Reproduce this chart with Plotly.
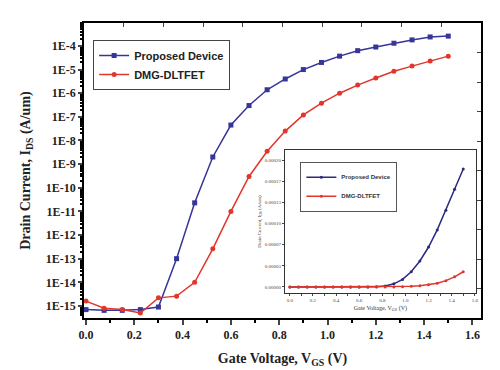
import plotly.graph_objects as go

# ---- data ----
vgs = [0.0, 0.075, 0.15, 0.225, 0.3, 0.375, 0.45, 0.525, 0.6, 0.675, 0.75,
       0.825, 0.9, 0.975, 1.05, 1.125, 1.2, 1.275, 1.35, 1.425, 1.5]
proposed_log = [7e-16, 6.5e-16, 6.5e-16, 7e-16, 9e-16, 1e-13, 2.3e-11, 2e-9, 4.5e-8, 3e-7, 1.4e-6,
                4e-6, 1e-5, 2e-5, 3.7e-5, 6.3e-5, 9e-5, 1.3e-4, 1.8e-4, 2.4e-4, 2.6e-4]
dmg_log = [1.6e-15, 8e-16, 7e-16, 5e-16, 2.2e-15, 2.6e-15, 1e-14, 2.6e-13, 1e-11, 3e-10, 3.5e-9,
           2.5e-8, 1.2e-7, 3.8e-7, 1e-6, 2.2e-6, 4.4e-6, 8.5e-6, 1.4e-5, 2.3e-5, 3.7e-5]
proposed_lin = [0.0, 0.0, 0.0, 0.0, 0.0, 0.0, 0.0, 0.0, 0.0, 0.0, 3e-7,
                1.5e-6, 5e-6, 1.2e-5, 2.4e-5, 4.1e-5, 6.3e-5, 9.0e-5, 1.21e-4, 1.54e-4, 1.86e-4]
dmg_lin = [0.0, 0.0, 0.0, 0.0, 0.0, 0.0, 0.0, 0.0, 0.0, 0.0, 0.0,
           0.0, 0.0, 4e-7, 1e-6, 2e-6, 3.5e-6, 6e-6, 1e-5, 1.6e-5, 2.4e-5]
y_tickvals = [1e-4, 1e-5, 1e-6, 1e-7, 1e-8, 1e-9, 1e-10, 1e-11, 1e-12, 1e-13, 1e-14, 1e-15]
y_ticktext = ["1E-4", "1E-5", "1E-6", "1E-7", "1E-8", "1E-9", "1E-10", "1E-11",
              "1E-12", "1E-13", "1E-14", "1E-15"]
inset_tickvals = [0.0, 3.333e-5, 6.667e-5, 1.0e-4, 1.3333e-4, 1.6667e-4, 2.0e-4]
inset_ticktext = ["0.00000", "0.00003", "0.00007", "0.00010", "0.00013", "0.00017", "0.00020"]

BLUE = "#35359a"
RED = "#e2362c"
SERIF = "Liberation Serif"
SANS = "Liberation Sans"

fig = go.Figure()
fig.add_trace(go.Scatter(x=vgs, y=proposed_log, mode="lines+markers", name="Proposed Device",
                         line=dict(color=BLUE, width=1.5),
                         marker=dict(symbol="square", size=5, color=BLUE), legend="legend"))
fig.add_trace(go.Scatter(x=vgs, y=dmg_log, mode="lines+markers", name="DMG-DLTFET",
                         line=dict(color=RED, width=1.5),
                         marker=dict(symbol="circle", size=5, color=RED), legend="legend"))
fig.add_trace(go.Scatter(x=vgs, y=proposed_lin, mode="lines+markers", name="Proposed Device",
                         xaxis="x2", yaxis="y2",
                         line=dict(color="#2a2a80", width=1.5),
                         marker=dict(symbol="circle", size=3, color="#2a2a80"), legend="legend2"))
fig.add_trace(go.Scatter(x=vgs, y=dmg_lin, mode="lines+markers", name="DMG-DLTFET",
                         xaxis="x2", yaxis="y2",
                         line=dict(color=RED, width=1.5),
                         marker=dict(symbol="circle", size=3, color=RED), legend="legend2"))
# dummy trace for the top/right tick axes
fig.add_trace(go.Scatter(x=[None], y=[None], xaxis="x3", yaxis="y3", showlegend=False,
                         hoverinfo="skip"))

fig.update_layout(
    width=500, height=370,
    margin=dict(l=76, r=27, t=15, b=60),
    paper_bgcolor="white", plot_bgcolor="white",
    xaxis=dict(range=[-0.0083, 1.6356], dtick=0.2, tick0=0, tickformat=".1f",
               ticks="outside", ticklen=5, tickwidth=1.5, linecolor="black", linewidth=1.5,
               mirror=True, showgrid=False, zeroline=False,
               minor=dict(dtick=0.1, ticks="outside", ticklen=3, tickcolor="black", showgrid=False),
               tickfont=dict(family=SERIF, size=12, color="#222", weight="bold"),
               title=dict(text="Gate Voltage, V<sub>GS</sub> (V)", standoff=12,
                          font=dict(family=SERIF, size=14, color="#222", weight="bold"))),
    yaxis=dict(type="log", range=[-15.51, -3.03], tickmode="array", tickvals=y_tickvals,
               ticktext=y_ticktext, ticks="outside", ticklen=4, tickwidth=1.5,
               linecolor="black", linewidth=1.5, mirror=True, showgrid=False, zeroline=False,
               minor=dict(ticks="outside", ticklen=2, tickcolor="black", dtick="D1", showgrid=False),
               tickfont=dict(family=SERIF, size=12, color="#222", weight="bold"),
               title=dict(text="Drain Current, I<sub>DS</sub> (A/um)", standoff=12,
                          font=dict(family=SERIF, size=14, color="#222", weight="bold"))),
    xaxis3=dict(overlaying="x", side="top", anchor="y3", range=[0, 10], dtick=1,
                ticks="inside", ticklen=4, tickwidth=1.2, showticklabels=False,
                showgrid=False, zeroline=False, showline=False),
    yaxis3=dict(overlaying="y", side="right", anchor="x3", range=[0, 10], dtick=1,
                ticks="inside", ticklen=4, tickwidth=1.2, showticklabels=False,
                showgrid=False, zeroline=False, showline=False),
    xaxis2=dict(domain=[0.506, 0.987], anchor="y2", range=[-0.043, 1.609], dtick=0.2, tick0=0,
                tickformat=".1f", ticks="outside", ticklen=2, linecolor="#333", linewidth=1,
                mirror=True, showgrid=False, zeroline=False,
                minor=dict(dtick=0.1, ticks="outside", ticklen=1.5, showgrid=False),
                tickfont=dict(family=SERIF, size=5, color="#444"),
                title=dict(text="Gate Voltage, V<sub>GS</sub> (V)", standoff=3,
                           font=dict(family=SERIF, size=6, color="#333"))),
    yaxis2=dict(domain=[0.0847, 0.569], anchor="x2", range=[-0.95e-5, 0.0002157],
                tickmode="array", tickvals=inset_tickvals, ticktext=inset_ticktext,
                ticks="outside", ticklen=2, linecolor="#333", linewidth=1, mirror=True,
                showgrid=False, zeroline=False,
                tickfont=dict(family=SERIF, size=5, color="#444"),
                title=dict(text="Drain Current, I<sub>DS</sub> (A/um)", standoff=2,
                           font=dict(family=SERIF, size=5, color="#333"))),
    legend=dict(x=0.023, y=0.942, xanchor="left", yanchor="top",
                bgcolor="white", bordercolor="#444", borderwidth=1,
                font=dict(family=SANS, size=11, color="#222", weight="bold"),
                tracegroupgap=0, itemwidth=30),
    legend2=dict(x=0.545, y=0.53, xanchor="left", yanchor="top",
                 bgcolor="white", bordercolor="#555", borderwidth=1,
                 font=dict(family=SANS, size=6, color="#333", weight="bold"),
                 tracegroupgap=0, itemwidth=30),
)

fig.write_html("out.html")
